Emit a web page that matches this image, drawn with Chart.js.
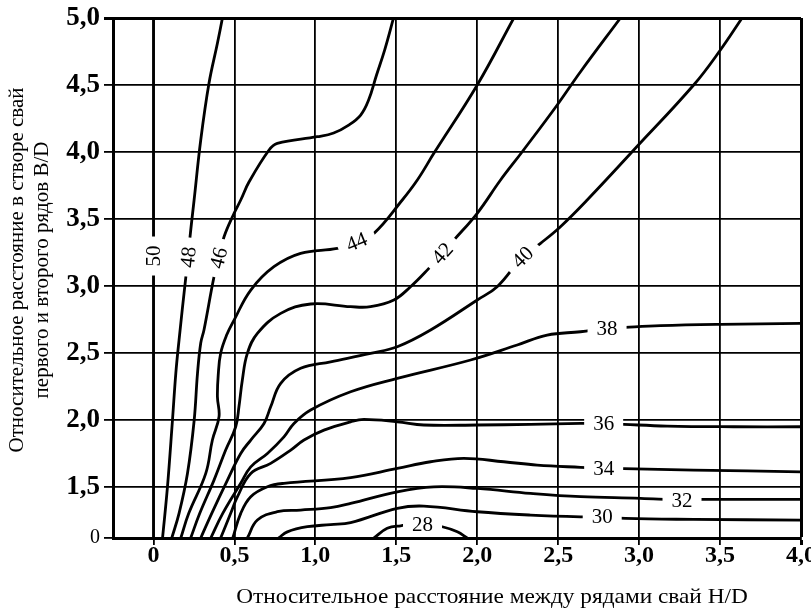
<!DOCTYPE html>
<html>
<head>
<meta charset="utf-8">
<script src="https://cdn.jsdelivr.net/npm/chart.js@4.4.0/dist/chart.umd.min.js"></script>
<style>
  html, body { margin: 0; padding: 0; background: #fff; }
</style>
</head>
<body>
<canvas id="contourChart" width="811" height="613"></canvas>
<script>
// contour levels and the traced isolines, [H/D, B/D]
const levels = [50, 48, 46, 44, 42, 40, 38, 36, 34, 32, 30, 28];

const c50 = [[0, 1.12], [0, 3.224], [0, 5.0]];
const c48 = [[0.056, 1.12], [0.086, 1.495], [0.117, 1.993], [0.138, 2.349], [0.158, 2.597], [0.199, 3.057],
  [0.215, 3.216], [0.226, 3.368], [0.251, 3.642], [0.292, 4.09], [0.343, 4.513], [0.395, 4.811], [0.426, 5.0]];
const c46 = [[0.113, 1.12], [0.158, 1.304], [0.21, 1.602], [0.251, 1.993], [0.272, 2.349], [0.292, 2.575],
  [0.312, 2.672], [0.374, 3.069], [0.403, 3.209], [0.436, 3.368], [0.498, 3.543], [0.539, 3.642], [0.59, 3.776],
  [0.714, 4.015], [0.765, 4.065], [1.012, 4.114], [1.113, 4.142], [1.206, 4.201], [1.28, 4.276], [1.329, 4.388],
  [1.378, 4.575], [1.428, 4.761], [1.483, 5.0]];
const c44 = [[0.169, 1.12], [0.218, 1.304], [0.323, 1.602], [0.364, 1.851], [0.405, 2.025], [0.395, 2.174],
  [0.4, 2.336], [0.415, 2.498], [0.452, 2.634], [0.498, 2.746], [0.601, 2.97], [0.744, 3.144], [0.909, 3.244],
  [1.136, 3.281], [1.255, 3.328], [1.362, 3.393], [1.537, 3.642], [1.63, 3.791], [1.732, 3.99], [2.0, 4.5],
  [2.226, 5.0]];
const c42 = [[0.23, 1.12], [0.286, 1.304], [0.374, 1.552], [0.446, 1.776], [0.508, 1.95], [0.528, 2.099],
  [0.549, 2.299], [0.58, 2.498], [0.642, 2.647], [0.786, 2.796], [0.971, 2.866], [1.218, 2.846], [1.341, 2.846],
  [1.485, 2.896], [1.588, 2.995], [1.691, 3.119], [1.784, 3.244], [1.856, 3.343], [2.0, 3.543], [2.144, 3.791],
  [2.278, 4.002], [2.494, 4.351], [2.638, 4.599], [2.885, 5.0]];
const c40 = [[0.292, 1.12], [0.36, 1.304], [0.457, 1.552], [0.539, 1.751], [0.601, 1.851], [0.683, 1.975],
  [0.724, 2.099], [0.786, 2.274], [0.909, 2.386], [1.094, 2.435], [1.341, 2.498], [1.506, 2.547], [1.712, 2.672],
  [2.0, 2.896], [2.123, 2.995], [2.28, 3.216], [2.391, 3.319], [2.514, 3.443], [2.679, 3.642], [2.967, 4.015],
  [3.337, 4.5], [3.502, 4.761], [3.636, 5.0]];
const c38 = [[0.354, 1.12], [0.428, 1.304], [0.539, 1.528], [0.601, 1.651], [0.704, 1.751], [0.806, 1.875],
  [0.868, 1.975], [0.971, 2.075], [1.218, 2.211], [1.506, 2.311], [1.959, 2.448], [2.247, 2.56], [2.432, 2.634],
  [2.638, 2.659], [2.802, 2.684], [2.915, 2.692], [3.131, 2.704], [3.502, 2.714], [4.0, 2.722]];
const c36 = [[0.415, 1.12], [0.477, 1.304], [0.519, 1.428], [0.601, 1.602], [0.724, 1.677], [0.848, 1.776],
  [0.93, 1.851], [1.053, 1.925], [1.218, 1.987], [1.3, 2.005], [1.506, 1.987], [1.67, 1.963], [2.0, 1.963],
  [2.329, 1.968], [2.638, 1.975], [2.781, 1.975], [2.905, 1.968], [3.173, 1.955], [3.584, 1.95], [4.0, 1.95]];
const c34 = [[0.49, 1.12], [0.539, 1.304], [0.601, 1.428], [0.704, 1.502], [0.806, 1.528], [1.218, 1.571],
  [1.506, 1.64], [1.712, 1.689], [1.917, 1.714], [2.164, 1.689], [2.37, 1.664], [2.638, 1.647], [2.781, 1.64],
  [2.905, 1.637], [3.337, 1.627], [4.0, 1.614]];
const c32 = [[0.58, 1.12], [0.642, 1.254], [0.765, 1.316], [0.909, 1.328], [1.094, 1.347], [1.218, 1.378],
  [1.506, 1.465], [1.732, 1.502], [2.0, 1.49], [2.329, 1.453], [2.638, 1.428], [3.008, 1.416], [3.265, 1.403],
  [3.389, 1.408], [4.0, 1.408]];
const c30 = [[0.773, 1.12], [0.827, 1.166], [0.951, 1.204], [1.094, 1.22], [1.218, 1.235], [1.506, 1.341],
  [1.67, 1.358], [2.0, 1.316], [2.329, 1.291], [2.638, 1.278], [2.772, 1.278], [2.915, 1.266], [3.337, 1.259],
  [4.0, 1.254]];
const c28 = [[1.362, 1.12], [1.444, 1.192], [1.527, 1.211], [1.662, 1.224], [1.784, 1.204], [1.877, 1.166],
  [1.938, 1.12]];

const contours = [c50, c48, c46, c44, c42, c40, c38, c36, c34, c32, c30, c28];
// which traced point of each isoline carries its label
const labelIndex = [1, 6, 8, 14, 16, 15, 14, 15, 12, 12, 10, 3];

const xTicks = [0, 0.5, 1, 1.5, 2, 2.5, 3, 3.5, 4];
const xTickLabels = ['0', '0,5', '1,0', '1,5', '2,0', '2,5', '3,0', '3,5', '4,0'];
const yTicks = [1.12, 1.5, 2, 2.5, 3, 3.5, 4, 4.5, 5];
const yTickLabels = ['0', '1,5', '2,0', '2,5', '3,0', '3,5', '4,0', '4,5', '5,0'];

const xTitle = 'Относительное расстояние между рядами свай H/D';
const yTitle = ['Относительное расстояние в створе свай', 'первого и второго рядов B/D'];

const SERIF = '"Liberation Serif", "Times New Roman", serif';

const datasets = contours.map((pts, i) => ({
  label: String(levels[i]),
  data: pts.map(p => ({ x: p[0], y: p[1] })),
  borderColor: '#000',
  borderWidth: 2.8,
  pointRadius: 0,
  showLine: true,
  tension: 0.4,
  fill: false,
}));

const contourLabels = {
  id: 'contourLabels',
  afterDatasetsDraw(chart) {
    const { ctx, scales: { x, y } } = chart;
    ctx.font = '21px ' + SERIF;
    ctx.textAlign = 'center';
    ctx.textBaseline = 'middle';
    chart.data.datasets.forEach((ds, i) => {
      const k = labelIndex[i];
      const p = ds.data[k], a = ds.data[k - 1], b = ds.data[k + 1];
      const px = x.getPixelForValue(p.x), py = y.getPixelForValue(p.y);
      let dx = x.getPixelForValue(b.x) - x.getPixelForValue(a.x);
      let dy = y.getPixelForValue(b.y) - y.getPixelForValue(a.y);
      if (dx < 0 || (dx === 0 && dy > 0)) { dx = -dx; dy = -dy; }
      let ang = Math.atan2(dy, dx);
      if (Math.abs(ang) < 0.17) ang = 0;
      const text = String(levels[i]);
      const w = ctx.measureText(text).width + 18;
      ctx.save();
      ctx.translate(px, py);
      ctx.rotate(ang);
      ctx.fillStyle = '#fff';
      ctx.fillRect(-w / 2, -8, w, 16);
      ctx.fillStyle = '#000';
      ctx.fillText(text, 0, 1);
      ctx.restore();
    });
  },
  afterDraw(chart) {
    const { ctx } = chart;
    ctx.save();
    ctx.fillStyle = '#000';
    ctx.font = '21px ' + SERIF;
    ctx.textAlign = 'center';
    ctx.textBaseline = 'middle';
    ctx.save();
    ctx.translate(492, 597);
    ctx.scale(1.11, 1);
    ctx.fillText(xTitle, 0, 0);
    ctx.restore();
    ctx.translate(17, 270);
    ctx.rotate(-Math.PI / 2);
    ctx.fillText(yTitle[0], 0, 0);
    ctx.fillText(yTitle[1], 0, 25);
    ctx.restore();
  }
};

const ctx = document.getElementById('contourChart').getContext('2d');
const contourChart = new Chart(ctx, {
  type: 'scatter',
  data: { datasets: datasets },
  options: {
    responsive: false,
    animation: false,
    layout: { padding: { left: 0, top: 18, right: 10, bottom: 0 } },
    plugins: { legend: { display: false }, tooltip: { enabled: false } },
    scales: {
      x: {
        type: 'linear',
        min: -0.25,
        max: 4,
        afterBuildTicks: scale => { scale.ticks = xTicks.map(v => ({ value: v })); },
        afterFit: scale => { scale.height = 75; scale.paddingLeft = 0; scale.paddingRight = 0; },
        ticks: {
          color: '#000',
          autoSkip: false,
          maxRotation: 0,
          padding: -4,
          font: { family: SERIF, size: 24, weight: 'bold' },
          callback: (v, i) => xTickLabels[i],
        },
        grid: {
          color: '#000',
          lineWidth: c => (c.tick && c.tick.value === 4 ? 3 : 1.8),
          tickLength: 7,
        },
        border: { display: true, color: '#000', width: 3 },
      },
      y: {
        type: 'linear',
        min: 1.12,
        max: 5,
        afterBuildTicks: scale => { scale.ticks = yTicks.map(v => ({ value: v })); },
        afterFit: scale => { scale.width = 113; scale.paddingTop = 0; scale.paddingBottom = 0; },
        ticks: {
          color: '#000',
          autoSkip: false,
          padding: 4,
          font: c => (c.index === 0
            ? { family: SERIF, size: 20, weight: 'normal' }
            : { family: SERIF, size: 27, weight: 'bold' }),
          callback: (v, i) => yTickLabels[i],
        },
        grid: {
          color: '#000',
          lineWidth: c => (c.tick && c.tick.value === 5 ? 3 : 1.8),
          tickLength: 9,
        },
        border: { display: true, color: '#000', width: 3 },
      },
    },
  },
  plugins: [contourLabels],
});
</script>
</body>
</html>
